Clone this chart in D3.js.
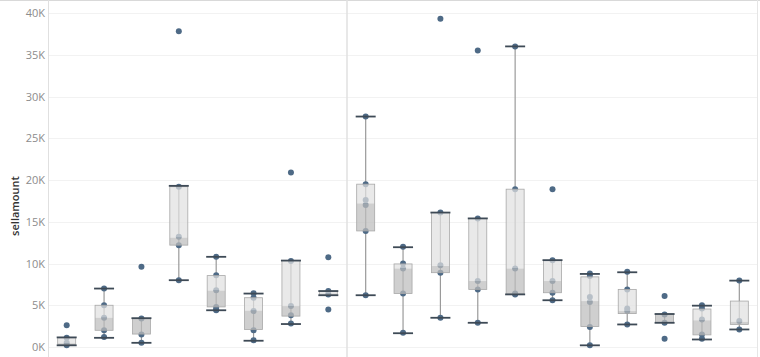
<!DOCTYPE html>
<html>
<head>
<meta charset="utf-8">
<script src="https://cdn.jsdelivr.net/npm/d3@7"></script>
<style>
  body { margin: 0; background: #fff; }
  svg { display: block; }
</style>
</head>
<body>
<div id="chart"></div>
<script>
(function(){
    var width = 760;
    var height = 357;

    // categories per pane
    var leftCats = ["L1", "L2", "L3", "L4", "L5", "L6", "L7", "L8"];
    var rightCats = ["R1", "R2", "R3", "R4", "R5", "R6", "R7", "R8", "R9", "R10", "R11"];

    // box stats (in sellamount)
    var lows    = [200, 1100, 500, 8000, 4400, 750, 2750, 6200,   6200, 1650, 3500, 2900, 6300, 5600, 200, 2700, 2900, 900, 2100];
    var q1s     = [300, 2000, 1550, 12200, 4800, 2100, 3700, 6200,  13900, 6400, 8900, 6900, 6350, 6500, 2450, 4000, 2900, 1450, 2700];
    var medians = [450, 3500, 3350, 13100, 6750, 4350, 4900, 6400,  17200, 9400, 9700, 7900, 9400, 7900, 5500, 4300, 3850, 3200, 3000];
    var q3s     = [1100, 5000, 3450, 19200, 8550, 5900, 10350, 6700, 19500, 9950, 16100, 15400, 18900, 10400, 8400, 6900, 3950, 4550, 5500];
    var highs   = [1150, 7000, 3450, 19300, 10800, 6400, 10350, 6700, 27600, 11950, 16100, 15400, 36000, 10400, 8750, 8950, 3950, 4950, 7950];

    // individual points
    var points = [
        [200, 500, 1100, 2600],
        [1200, 2000, 3500, 5000, 7000],
        [500, 1500, 3400, 9600],
        [8000, 12200, 13200, 19200, 37800],
        [4400, 4500, 4800, 6800, 8600, 10800],
        [800, 2000, 4300, 5900, 6450],
        [2800, 3800, 4900, 10300, 20900],
        [4500, 6300, 6700, 10750],
        [6200, 13900, 17000, 17600, 19500, 27600],
        [1700, 6400, 9400, 10000, 12000],
        [3500, 8900, 9800, 16100, 39300],
        [2900, 6900, 7900, 15400, 35500],
        [6300, 6400, 9400, 18900, 36000],
        [5600, 6500, 7900, 10400, 18900],
        [200, 2400, 5400, 6000, 8500, 8800],
        [2700, 4300, 4600, 6900, 9000],
        [1000, 2900, 3900, 6100],
        [1000, 1500, 3300, 4600, 5000],
        [2100, 3100, 7950]
    ];

    var yTicks = [0, 5000, 10000, 15000, 20000, 25000, 30000, 35000, 40000];

    var left = 48, right = 758, split = 347, top = 13, bottom = 347;

    var svg = d3.select("#chart")
        .append("svg")
        .attr("width", width)
        .attr("height", height)

    var y = d3.scaleLinear().domain([0, 40000]).range([bottom, top])

    var xLeft = d3.scaleBand().domain(leftCats).range([left, split])
    var xRight = d3.scaleBand().domain(rightCats).range([split, right])

    var data = leftCats.concat(rightCats).map(function(c, i){
        var sc = i < leftCats.length ? xLeft : xRight
        return {
            cat: c,
            cx: sc(c) + sc.bandwidth() / 2,
            low: lows[i], q1: q1s[i], med: medians[i], q3: q3s[i], high: highs[i],
            pts: points[i]
        }
    })

    // gridlines
    svg.append("g")
        .selectAll("line")
        .data(yTicks)
        .enter().append("line")
        .attr("x1", left)
        .attr("x2", right)
        .attr("y1", function(d){ return Math.round(y(d)) + 0.5 })
        .attr("y2", function(d){ return Math.round(y(d)) + 0.5 })
        .attr("stroke", "#f2f2f2")

    // frame
    svg.append("line")
        .attr("x1", 0).attr("x2", width)
        .attr("y1", 0.5).attr("y2", 0.5)
        .attr("stroke", "#d9d9d9")
    svg.append("line")
        .attr("x1", left + 0.5).attr("x2", left + 0.5)
        .attr("y1", 0).attr("y2", height)
        .attr("stroke", "#e0e0e0")
    svg.append("line")
        .attr("x1", split).attr("x2", split)
        .attr("y1", 0).attr("y2", height)
        .attr("stroke", "#e0e0e0")
        .attr("stroke-width", 1.5)
    svg.append("line")
        .attr("x1", 757.5).attr("x2", 757.5)
        .attr("y1", 0).attr("y2", height)
        .attr("stroke", "#e6e6e6")

    // y axis
    var yAxis = d3.axisLeft(y)
        .tickValues(yTicks)
        .tickSize(0)
        .tickPadding(0)
        .tickFormat(function(d){ return (d / 1000) + "K" })

    var gy = svg.append("g")
        .attr("transform", "translate(" + (left - 3) + ",0)")
        .call(yAxis)
    gy.select(".domain").remove()
    gy.selectAll("text")
        .attr("fill", "#8c8c8c")
        .style("font-family", "'Open Sans', sans-serif")
        .style("font-size", "11px")

    svg.append("text")
        .attr("transform", "translate(19,206) rotate(-90)")
        .attr("text-anchor", "middle")
        .attr("fill", "#333")
        .style("font-family", "'Open Sans', sans-serif")
        .style("font-size", "11px")
        .style("font-weight", 600)
        .text("sellamount")

    var boxW = 18, capW = 20;

    var groups = svg.selectAll(".box")
        .data(data)
        .enter().append("g")
        .attr("class", "box")

    // whiskers
    groups.append("line")
        .attr("x1", function(d){ return d.cx })
        .attr("x2", function(d){ return d.cx })
        .attr("y1", function(d){ return y(d.high) })
        .attr("y2", function(d){ return y(d.low) })
        .attr("stroke", "#9a9a9a")
        .attr("stroke-width", 1.2)

    // points
    groups.selectAll("circle")
        .data(function(d){ return d.pts })
        .enter().append("circle")
        .attr("cx", function(){ return d3.select(this.parentNode).datum().cx })
        .attr("cy", function(v){ return y(v) })
        .attr("r", 3)
        .attr("fill", "#4e6a86")

    // upper box (median -> q3)
    groups.append("rect")
        .attr("x", function(d){ return d.cx - boxW / 2 })
        .attr("width", boxW)
        .attr("y", function(d){ return y(d.q3) })
        .attr("height", function(d){ return Math.max(0, y(d.med) - y(d.q3)) })
        .attr("fill", "#e0e0e0")
        .attr("fill-opacity", 0.72)

    // lower box (q1 -> median)
    groups.append("rect")
        .attr("x", function(d){ return d.cx - boxW / 2 })
        .attr("width", boxW)
        .attr("y", function(d){ return y(d.med) })
        .attr("height", function(d){ return Math.max(0, y(d.q1) - y(d.med)) })
        .attr("fill", "#bdbdbd")
        .attr("fill-opacity", 0.72)

    // box edges
    groups.append("rect")
        .attr("x", function(d){ return d.cx - boxW / 2 })
        .attr("width", boxW)
        .attr("y", function(d){ return y(d.q3) })
        .attr("height", function(d){ return y(d.q1) - y(d.q3) })
        .attr("fill", "none")
        .attr("stroke", "#a8a8a8")
        .attr("stroke-width", 0.8)

    // caps
    groups.selectAll(".cap")
        .data(function(d){ return [{cx: d.cx, v: d.high}, {cx: d.cx, v: d.low}] })
        .enter().append("line")
        .attr("class", "cap")
        .attr("x1", function(c){ return c.cx - capW / 2 })
        .attr("x2", function(c){ return c.cx + capW / 2 })
        .attr("y1", function(c){ return y(c.v) })
        .attr("y2", function(c){ return y(c.v) })
        .attr("stroke", "#3e4a56")
        .attr("stroke-width", 1.8)
})();
</script>
</body>
</html>
